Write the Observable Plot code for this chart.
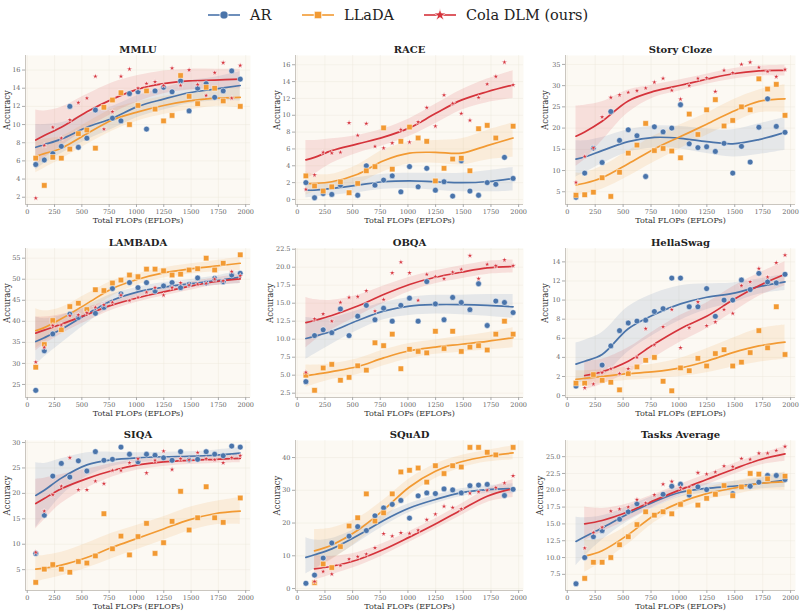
<!DOCTYPE html>
<html><head><meta charset="utf-8">
<script src="https://cdn.jsdelivr.net/npm/d3@7"></script>
<script src="https://cdn.jsdelivr.net/npm/@observablehq/plot@0.6"></script>
<style>
body{margin:0;background:#fff;}
#root{position:relative;width:800px;height:612px;font-family:"DejaVu Serif",serif;overflow:hidden;}
.panel{position:absolute;}
.panel svg{overflow:visible;}
</style></head><body><div id="root"></div>
<script>
// ---------- shared x values ----------
const STEPS = [78,156,234,312,390,468,546,624,702,780,858,936,1014,1092,1170,1248,1326,1404,1482,1560,1638,1716,1794,1872,1950];
const KNOTS = [78,156,312,546,780,1014,1248,1482,1716,1950];
const XTICKS = [0,250,500,750,1000,1250,1500,1750,2000];
const SERIES = ["AR","LLaDA","Cola DLM (ours)"];
const COL_AR = "#4a74aa", COL_LL = "#f29a33", COL_CO = "#d5333b";

// ---------- MMLU ----------
const mmluAR   = [5.6,6.1,6.8,7.6,12.0,7.5,8.5,11.6,null,10.7,10.4,13.4,13.6,9.5,13.7,14.1,13.6,14.8,11.5,14.0,14.5,13.0,13.7,15.9,15.0];
const mmluLL   = [6.3,3.3,6.4,6.3,7.3,9.0,9.4,7.4,11.9,12.7,13.5,10.0,12.1,13.7,11.7,10.4,11.0,15.4,13.1,12.3,14.1,14.0,12.6,null,12.0];
const mmluCO   = [1.9,7.7,9.7,8.5,10.5,12.4,12.9,15.3,9.5,11.4,15.3,16.1,14.0,14.5,14.7,14.3,16.2,14.3,16.0,14.4,13.2,15.7,16.8,12.9,16.5];
const mmluARfit = [7.5,7.8,8.4,9.7,10.7,12.0,12.8,13.5,13.9,14.3];
const mmluARlo  = [5.0,5.7,6.8,8.3,9.5,10.8,11.6,12.3,12.6,12.6];
const mmluARhi  = [10.0,10.0,10.2,11.2,12.0,13.2,14.0,14.8,15.2,15.8];
const mmluLLfit = [6.5,6.8,7.4,9.0,10.5,11.4,12.1,12.6,12.9,13.0];
const mmluLLlo  = [4.7,5.2,6.2,7.8,9.3,10.4,11.1,11.6,12.0,11.8];
const mmluLLhi  = [8.2,8.4,8.7,10.2,11.7,12.5,13.1,13.5,13.9,14.2];
const mmluCOfit = [8.3,8.8,9.7,11.4,12.8,13.9,14.5,14.8,14.9,15.0];
const mmluCOlo  = [5.5,6.3,7.6,9.6,11.2,12.5,13.4,13.8,14.0,14.0];
const mmluCOhi  = [11.6,11.5,11.9,13.3,14.6,15.4,15.9,16.1,16.1,16.1];
const mmluTicks = [2,4,6,8,10,12,14,16];

// ---------- RACE ----------
const raceAR   = [2.0,0.2,0.7,0.6,1.7,null,0.5,4.0,1.7,2.3,2.8,0.9,3.9,1.5,3.7,1.1,2.1,0.4,4.6,1.0,0.5,2.0,1.8,5.0,2.5];
const raceLL   = [2.8,1.6,1.0,1.5,2.1,0.8,1.9,3.4,3.9,8.5,3.6,6.9,8.6,7.3,6.9,2.2,3.7,4.8,4.9,3.4,8.4,8.8,7.3,null,8.7];
const raceCO   = [1.2,2.9,5.6,5.5,5.6,9.1,7.6,9.0,6.3,6.1,6.7,8.3,6.8,9.2,10.9,8.7,12.4,11.4,10.2,9.4,12.1,13.7,14.6,16.3,13.6];
const raceARfit = [1.1,1.1,1.3,1.7,2.1,2.2,2.1,2.0,2.1,2.5];
const raceARlo  = [0.2,0.3,0.5,0.8,1.2,1.3,1.1,0.9,0.9,1.0];
const raceARhi  = [2.0,1.9,2.1,2.6,3.0,3.1,3.1,3.1,3.4,3.8];
const raceLLfit = [1.9,1.9,2.1,3.0,4.6,5.5,5.6,5.5,6.4,7.3];
const raceLLlo  = [0.5,0.9,1.2,1.9,3.3,4.2,4.3,4.1,4.7,5.0];
const raceLLhi  = [3.3,3.0,3.0,4.1,5.9,6.8,7.0,7.2,8.2,9.1];
const raceCOfit = [4.7,5.0,5.8,6.6,7.4,8.5,10.2,11.8,12.8,13.6];
const raceCOlo  = [2.4,3.0,4.3,5.5,6.4,7.5,9.0,10.6,11.5,12.0];
const raceCOhi  = [7.0,7.0,7.2,7.6,8.4,9.6,11.3,13.0,14.3,15.3];
const raceTicks = [0,2,4,6,8,10,12,14,16];

// ---------- Story Cloze ----------
const scAR   = [3.7,9.4,15.3,11.9,23.9,17.1,19.6,18.2,8.6,20.3,19.1,20.0,25.5,16.3,15.4,15.6,14.5,16.4,9.4,15.7,12.0,20.2,26.9,20.4,19.0];
const scLL   = [4.2,4.3,4.9,8.3,3.9,9.6,14.1,16.0,21.1,14.7,15.2,14.6,13.0,23.3,18.5,24.3,26.7,20.5,21.8,25.0,24.3,31.6,29.2,30.3,23.0];
const scCO   = [7.2,13.3,15.3,22.6,27.2,27.8,28.4,28.8,29.4,30.8,31.7,28.9,26.8,30.0,31.7,31.8,28.6,33.6,33.0,35.0,35.5,34.3,33.3,32.1,33.8];
const scARfit = [12.7,13.2,14.7,16.8,17.8,17.6,16.8,16.3,17.3,19.0];
const scARlo  = [8.5,9.5,11.6,14.3,15.3,15.1,14.0,13.2,13.8,14.8];
const scARhi  = [17.0,17.0,17.8,19.6,20.5,20.4,19.8,19.6,21.0,22.5];
const scLLfit = [6.6,7.0,8.3,11.6,15.1,18.0,20.9,23.9,26.3,26.9];
const scLLlo  = [4.0,4.5,5.6,8.6,12.0,15.2,18.3,21.2,23.6,23.6];
const scLLhi  = [9.4,9.5,11.0,14.6,18.2,20.8,23.5,26.6,29.0,30.2];
const scCOfit = [18.1,19.1,21.6,26.4,28.7,30.1,31.5,32.8,33.5,33.6];
const scCOlo  = [11.0,12.6,17.0,23.6,27.2,28.8,30.3,31.5,32.3,32.3];
const scCOhi  = [25.2,25.4,26.2,29.0,30.2,31.4,32.7,34.0,34.6,34.8];
const scTicks = [5,10,15,20,25,30,35];

// ---------- LAMBADA ----------
const lbAR   = [23.6,33.0,37.0,38.2,41.7,40.9,42.8,41.9,43.3,47.8,46.5,49.2,48.0,49.2,47.2,48.4,49.2,48.0,48.8,50.3,49.1,50.2,49.4,51.0,51.4];
const lbLL   = [29.1,34.5,40.2,38.0,43.5,44.3,42.8,47.5,47.3,49.1,49.8,51.0,50.6,52.4,52.4,52.0,51.0,51.2,52.2,52.5,55.0,52.2,53.8,null,55.8];
const lbCO   = [30.3,33.8,39.0,39.1,41.3,41.5,42.0,43.3,43.9,44.5,46.2,44.9,45.7,46.9,48.0,46.2,48.0,49.1,48.6,48.8,49.0,50.0,49.6,51.8,50.8];
const lbARfit = [35.2,36.1,38.1,41.7,45.0,47.0,48.1,48.9,49.6,50.5];
const lbARlo  = [29.5,31.5,34.8,39.5,43.5,45.8,47.0,47.9,48.5,49.0];
const lbARhi  = [41.0,40.6,41.4,43.8,46.5,48.1,49.2,49.9,50.7,52.0];
const lbLLfit = [37.8,38.5,40.6,44.2,47.8,50.0,51.5,52.4,53.1,53.8];
const lbLLlo  = [33.5,35.0,38.0,42.0,46.0,48.7,50.3,51.2,51.8,52.0];
const lbLLhi  = [43.0,42.5,43.3,46.5,49.6,51.3,52.7,53.6,54.4,55.3];
const lbCOfit = [37.2,37.9,39.3,41.6,43.9,45.6,47.0,48.3,49.4,50.1];
const lbCOlo  = [33.0,34.5,37.0,40.0,42.7,44.6,46.0,47.3,48.5,49.0];
const lbCOhi  = [41.0,41.0,41.6,43.3,45.1,46.6,48.0,49.3,50.3,51.2];
const lbTicks = [25,30,35,40,45,50,55];

// ---------- OBQA ----------
const obAR   = [4.1,10.5,11.3,10.9,14.2,10.5,13.2,14.7,12.7,14.3,12.5,14.7,15.7,12.5,18.0,14.9,12.7,15.8,15.1,14.1,17.7,11.9,15.3,15.1,13.7];
const obLL   = [5.0,2.9,6.0,6.5,4.3,4.7,6.3,5.7,9.5,9.1,10.7,5.9,8.6,8.3,8.1,11.1,8.7,11.1,8.3,8.9,9.1,8.5,10.7,12.5,10.7];
const obCO   = [5.4,12.8,13.5,12.5,15.1,15.8,15.9,16.7,13.9,15.5,19.2,20.7,19.2,15.4,19.0,18.7,18.4,19.3,19.7,21.6,18.4,20.4,20.2,21.0,20.2];
const obARfit = [10.1,10.4,11.1,12.6,13.9,14.6,14.8,14.8,14.7,14.5];
const obARlo  = [7.2,7.9,9.3,11.2,12.7,13.3,13.5,13.4,13.2,12.9];
const obARhi  = [13.0,12.9,13.0,14.0,15.1,15.8,16.1,16.1,16.2,16.2];
const obLLfit = [4.9,5.1,5.5,6.2,7.4,8.4,8.9,9.3,9.7,10.2];
const obLLlo  = [3.3,3.7,4.4,5.1,6.3,7.3,7.9,8.2,8.5,8.8];
const obLLhi  = [6.4,6.4,6.6,7.3,8.5,9.4,9.9,10.4,10.9,11.6];
const obCOfit = [12.3,12.6,13.3,14.6,16.2,17.6,18.6,19.3,19.9,20.1];
const obCOlo  = [8.8,9.8,11.3,13.2,15.0,16.6,17.7,18.4,19.0,19.2];
const obCOhi  = [15.8,15.5,15.4,16.1,17.4,18.6,19.5,20.2,20.8,21.0];
const obTicks = [2.5,5,7.5,10,12.5,15,17.5,20,22.5];

// ---------- HellaSwag ----------
const hsAR   = [1.0,null,null,3.2,5.2,6.8,7.6,7.8,7.9,8.8,9.1,12.3,12.3,9.3,9.3,11.2,8.3,10.0,10.0,12.1,11.1,12.8,11.9,11.8,12.7];
const hsLL   = [1.3,1.3,2.2,1.6,1.4,0.6,2.3,3.0,3.7,4.0,1.5,0.5,2.9,2.6,3.9,3.1,4.4,4.8,3.1,3.5,4.5,6.8,5.0,9.3,4.3];
const hsCO   = [null,0.8,1.2,2.4,2.8,2.3,2.8,4.0,7.0,5.3,7.2,9.0,5.0,7.1,9.8,7.3,7.7,9.0,8.6,11.5,11.9,13.3,12.4,13.9,14.7];
const hsARfit = [3.3,3.6,4.3,7.0,8.5,9.6,10.3,10.7,11.4,11.9];
const hsARlo  = [1.2,1.5,2.0,4.6,6.4,7.9,9.0,9.7,10.6,11.0];
const hsARhi  = [5.5,5.8,6.6,9.3,10.7,11.5,11.7,11.8,12.2,12.7];
const hsLLfit = [1.7,1.8,2.0,2.3,2.5,2.9,3.6,4.5,5.2,5.6];
const hsLLlo  = [0.8,1.0,1.3,1.6,1.8,2.0,2.4,3.0,3.5,3.8];
const hsLLhi  = [2.6,2.6,2.7,3.0,3.3,3.9,4.9,6.0,7.0,7.4];
const hsCOfit = [null,2.1,2.5,3.6,5.4,7.0,8.3,10.0,11.5,12.7];
const hsCOlo  = [null,0.6,1.2,2.4,4.0,5.6,7.0,8.7,10.4,11.5];
const hsCOhi  = [null,3.6,3.8,5.0,6.8,8.4,9.7,11.4,12.8,14.0];
const hsTicks = [0,2,4,6,8,10,12,14];

// ---------- SIQA ----------
const siAR   = [8.2,15.7,23.4,25.9,23.2,26.4,24.4,28.2,26.5,26.7,29.1,27.7,26.2,27.7,27.5,27.0,26.5,28.2,26.6,26.7,28.2,27.7,27.4,29.3,29.1];
const siLL   = [2.5,5.1,6.0,5.1,4.5,6.6,6.3,7.7,16.0,9.1,11.6,7.9,11.5,14.1,8.2,10.3,14.5,20.4,12.8,15.2,21.3,15.2,14.3,null,19.1];
const siCO   = [8.4,16.5,19.7,21.4,27.0,20.7,20.7,22.4,21.9,24.5,24.5,26.0,26.8,24.0,26.5,28.3,24.7,26.8,26.6,28.0,26.8,26.6,26.0,27.0,27.4];
const siARfit = [19.6,20.6,23.0,25.6,26.6,27.0,27.2,27.3,27.5,27.9];
const siARlo  = [13.2,15.5,19.5,23.3,25.3,26.0,26.3,26.5,26.6,26.6];
const siARhi  = [26.0,25.9,26.8,28.0,28.1,28.0,28.1,28.2,28.5,29.0];
const siLLfit = [5.1,5.3,5.9,7.4,9.4,11.2,13.0,14.8,16.0,16.5];
const siLLlo  = [2.5,3.0,3.8,5.3,7.2,9.0,10.8,12.6,13.8,13.9];
const siLLhi  = [7.7,7.8,8.4,10.2,12.2,13.8,15.4,17.2,18.4,19.2];
const siCOfit = [18.0,19.0,20.9,22.9,24.5,25.6,26.2,26.5,26.7,26.9];
const siCOlo  = [13.0,14.8,18.0,21.0,23.2,24.6,25.3,25.7,25.9,26.0];
const siCOhi  = [22.8,23.0,23.7,24.8,25.9,26.6,27.1,27.4,27.5,27.8];
const siTicks = [5,10,15,20,25,30];

// ---------- SQuAD ----------
const sqAR   = [1.6,4.1,9.3,13.9,null,16.0,18.9,17.7,22.2,24.6,25.7,26.9,21.5,28.3,29.2,29.0,30.4,30.1,29.2,31.4,31.6,31.8,null,28.4,30.3];
const sqLL   = [null,1.8,7.5,6.4,12.8,19.1,21.6,28.9,20.6,23.1,28.9,35.6,36.1,36.8,32.5,37.5,35.1,37.5,37.1,43.1,43.1,41.6,40.8,null,43.1];
const sqCO   = [null,2.1,5.2,4.4,7.0,9.0,9.7,10.5,12.4,16.7,16.0,17.0,16.8,17.8,21.0,22.7,25.1,24.7,24.3,29.1,29.5,30.0,30.8,32.2,34.4];
const sqARfit = [9.5,10.3,12.1,16.2,20.8,24.6,27.2,29.3,30.2,30.5];
const sqARlo  = [4.5,6.0,9.0,14.0,19.0,23.2,25.9,28.1,29.0,28.9];
const sqARhi  = [15.5,14.8,15.3,18.5,22.6,26.0,28.5,30.5,31.4,32.0];
const sqLLfit = [null,11.5,13.3,17.8,24.0,31.0,35.8,38.7,40.4,41.4];
const sqLLlo  = [null,5.5,8.8,14.3,21.0,28.5,33.6,36.8,38.6,39.3];
const sqLLhi  = [null,18.0,18.5,21.5,27.0,33.5,38.0,40.6,42.2,43.6];
const sqCOfit = [null,6.0,6.8,8.8,11.9,15.7,19.7,24.0,28.2,30.5];
const sqCOlo  = [null,2.5,4.2,6.8,10.2,14.1,18.2,22.3,26.3,27.8];
const sqCOhi  = [null,10.0,9.8,11.0,13.8,17.4,21.3,25.8,30.3,33.3];
const sqTicks = [0,10,20,30,40];

// ---------- Tasks Average ----------
const taAR   = [6.1,10.0,13.1,14.0,null,15.7,16.8,18.0,null,null,19.4,20.6,20.9,19.3,20.5,20.1,null,null,19.5,null,20.6,21.2,22.2,22.2,21.6];
const taLL   = [null,6.9,9.3,9.3,10.0,11.9,13.1,14.9,16.8,16.3,16.8,16.5,17.9,19.8,17.8,18.8,19.4,20.7,19.2,20.5,22.5,22.4,21.7,null,22.1];
const taCO   = [null,11.4,13.7,14.5,16.9,17.2,17.5,18.6,18.1,19.3,20.9,21.3,20.4,20.5,22.6,22.4,22.7,23.6,23.5,24.7,24.6,25.5,25.5,25.9,26.5];
const taARfit = [12.4,13.1,14.4,16.5,18.3,19.7,20.3,20.6,21.0,21.5];
const taARlo  = [8.8,10.2,12.6,15.4,17.4,19.0,19.6,19.9,20.2,20.4];
const taARhi  = [16.0,15.9,16.2,17.6,19.2,20.4,21.0,21.3,21.8,22.6];
const taLLfit = [null,10.2,11.0,13.4,16.3,18.2,19.5,20.3,21.0,21.3];
const taLLlo  = [null,7.8,9.3,12.0,15.2,17.3,18.6,19.3,20.0,20.0];
const taLLhi  = [null,12.6,12.8,14.8,17.4,19.1,20.4,21.3,22.0,22.7];
const taCOfit = [null,15.0,15.5,16.8,18.5,20.1,21.6,23.1,24.5,25.4];
const taCOlo  = [null,12.5,13.8,15.6,17.6,19.3,20.8,22.3,23.7,24.3];
const taCOhi  = [null,17.5,17.3,18.0,19.4,20.9,22.4,23.9,25.3,26.5];
const taTicks = [7.5,10,12.5,15,17.5,20,22.5,25];

// ---------- panel table built from the arrays ----------
const panels = [
  {title:"MMLU", ydom:[1.2,17.6], ticks:mmluTicks, fmt:"d", s:[[mmluAR,mmluARfit,mmluARlo,mmluARhi],[mmluLL,mmluLLfit,mmluLLlo,mmluLLhi],[mmluCO,mmluCOfit,mmluCOlo,mmluCOhi]]},
  {title:"RACE", ydom:[-0.6,17.1], ticks:raceTicks, fmt:"d", s:[[raceAR,raceARfit,raceARlo,raceARhi],[raceLL,raceLLfit,raceLLlo,raceLLhi],[raceCO,raceCOfit,raceCOlo,raceCOhi]]},
  {title:"Story Cloze", ydom:[2.0,37.1], ticks:scTicks, fmt:"d", s:[[scAR,scARfit,scARlo,scARhi],[scLL,scLLfit,scLLlo,scLLhi],[scCO,scCOfit,scCOlo,scCOhi]]},
  {title:"LAMBADA", ydom:[21.9,57.3], ticks:lbTicks, fmt:"d", s:[[lbAR,lbARfit,lbARlo,lbARhi],[lbLL,lbLLfit,lbLLlo,lbLLhi],[lbCO,lbCOfit,lbCOlo,lbCOhi]]},
  {title:"OBQA", ydom:[1.9,22.6], ticks:obTicks, fmt:".1f", s:[[obAR,obARfit,obARlo,obARhi],[obLL,obLLfit,obLLlo,obLLhi],[obCO,obCOfit,obCOlo,obCOhi]]},
  {title:"HellaSwag", ydom:[-0.2,15.4], ticks:hsTicks, fmt:"d", s:[[hsAR,hsARfit,hsARlo,hsARhi],[hsLL,hsLLfit,hsLLlo,hsLLhi],[hsCO,hsCOfit,hsCOlo,hsCOhi]]},
  {title:"SIQA", ydom:[0.9,30.4], ticks:siTicks, fmt:"d", s:[[siAR,siARfit,siARlo,siARhi],[siLL,siLLfit,siLLlo,siLLhi],[siCO,siCOfit,siCOlo,siCOhi]]},
  {title:"SQuAD", ydom:[-0.6,45.2], ticks:sqTicks, fmt:"d", s:[[sqAR,sqARfit,sqARlo,sqARhi],[sqLL,sqLLfit,sqLLlo,sqLLhi],[sqCO,sqCOfit,sqCOlo,sqCOhi]]},
  {title:"Tasks Average", ydom:[5.1,27.4], ticks:taTicks, fmt:".1f", s:[[taAR,taARfit,taARlo,taARhi],[taLL,taLLfit,taLLlo,taLLhi],[taCO,taCOfit,taCOlo,taCOhi]]}
];

const STYLE = [
  {color:COL_AR, symbol:"circle", r:2.9},
  {color:COL_LL, symbol:"square", r:3.1},
  {color:COL_CO, symbol:"star", r:1.8}
];
const XDOM = [-16, 2044];
const COLS = [{left:0,width:265,ml:25,mr:15},{left:265,width:265,ml:30,mr:7},{left:530,width:270,ml:35,mr:5}];
const ROWS = [{top:35,height:191},{top:228,height:191},{top:420,height:192}];

const root = document.getElementById("root");

panels.forEach((p, idx) => {
  const col = COLS[idx % 3], row = ROWS[Math.floor(idx / 3)];
  const fmt = d3.format(p.fmt);
  const labelDx = p.fmt === ".1f" ? -25 : (idx % 3 === 2 ? -20 : -18);
  const marks = [
    Plot.frame({fill:"#fcf9f3", stroke:null}),
    Plot.gridX(XTICKS, {stroke:"#ece6dc", strokeOpacity:0.7, strokeWidth:0.6}),
    Plot.gridY(p.ticks, {stroke:"#ece6dc", strokeOpacity:0.7, strokeWidth:0.6})
  ];
  p.s.forEach((s, i) => {
    const fit = KNOTS.map((x, j) => ({x, y:s[1][j], lo:s[2][j], hi:s[3][j]}));
    marks.push(Plot.areaY(fit, {x:"x", y1:"lo", y2:"hi", fill:STYLE[i].color, fillOpacity:0.13, curve:"catmull-rom"}));
  });
  p.s.forEach((s, i) => {
    const fit = KNOTS.map((x, j) => ({x, y:s[1][j]}));
    marks.push(Plot.line(fit, {x:"x", y:"y", stroke:STYLE[i].color, strokeWidth:1.7, curve:"catmull-rom"}));
  });
  p.s.forEach((s, i) => {
    const pts = STEPS.map((x, j) => ({x, y:s[0][j]})).filter(d => d.y != null);
    marks.push(Plot.dot(pts, {x:"x", y:"y", symbol:STYLE[i].symbol, r:STYLE[i].r, fill:STYLE[i].color, stroke:"white", strokeWidth:0.5}));
  });
  marks.push(
    Plot.ruleX([XDOM[0]], {stroke:"#bdb8b0", strokeWidth:0.8}),
    Plot.ruleY([p.ydom[0]], {stroke:"#bdb8b0", strokeWidth:0.8}),
    Plot.axisX(XTICKS, {tickSize:3, tickPadding:1.5, fontSize:6.5, stroke:"#aaa", fill:"#666", label:null, tickFormat:d3.format("d")}),
    Plot.axisY(p.ticks, {tickSize:3, tickPadding:2, fontSize:6.5, stroke:"#aaa", fill:"#666", label:null, tickFormat:fmt}),
    Plot.text([p.title], {frameAnchor:"top", dy:-10, fontSize:10, fontWeight:"bold", fill:"#222"}),
    Plot.text(["Total FLOPs (EFLOPs)"], {frameAnchor:"bottom", dy:18, fontSize:8, fill:"#333"}),
    Plot.text(["Accuracy"], {frameAnchor:"left", dx:labelDx, rotate:-90, fontSize:8.5, fill:"#333"})
  );
  const chart = Plot.plot({
    width: col.width, height: row.height,
    marginLeft: col.ml, marginRight: col.mr, marginTop: 20, marginBottom: 22,
    x: {domain: XDOM},
    y: {domain: p.ydom},
    style: {fontFamily:"DejaVu Serif", background:"transparent", overflow:"visible"},
    marks
  });
  const div = document.createElement("div");
  div.className = "panel";
  div.style.left = col.left + "px";
  div.style.top = row.top + "px";
  div.appendChild(chart);
  root.appendChild(div);
});

// ---------- legend ----------
const leg = d3.select(root).append("svg")
  .attr("width", 800).attr("height", 32)
  .style("position","absolute").style("left","0px").style("top","0px");
const LEG = [
  {label:SERIES[0], color:COL_AR, sym:d3.symbolCircle, size:52, x0:208},
  {label:SERIES[1], color:COL_LL, sym:d3.symbolSquare, size:56, x0:302},
  {label:SERIES[2], color:COL_CO, sym:d3.symbolStar, size:48, x0:424}
];
LEG.forEach(it => {
  const g = leg.append("g");
  g.append("line").attr("x1", it.x0).attr("x2", it.x0 + 32).attr("y1", 15).attr("y2", 15)
    .attr("stroke", it.color).attr("stroke-width", 1.6);
  g.append("path").attr("d", d3.symbol(it.sym, it.size)()).attr("transform", `translate(${it.x0 + 16},15)`)
    .attr("fill", it.color).attr("stroke", "white").attr("stroke-width", 0.8);
  g.append("text").attr("x", it.x0 + 42).attr("y", 15).attr("dy", "0.35em")
    .attr("font-family", "DejaVu Serif").attr("font-size", 14.5).attr("fill", "#222").text(it.label);
});
</script>
</body></html>
